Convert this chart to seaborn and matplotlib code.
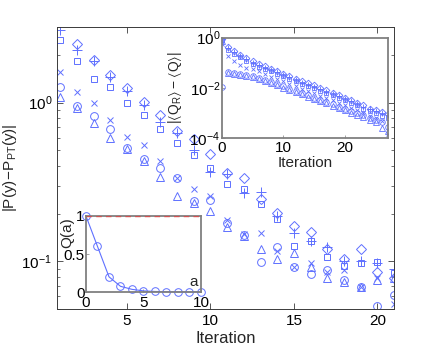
import matplotlib
matplotlib.use("Agg")
import matplotlib.pyplot as plt
import seaborn as sns
import pandas as pd
from matplotlib.ticker import LogLocator, NullFormatter, LogFormatterMathtext, FixedLocator

# ---------------- data ----------------
iters_main = list(range(1, 22))
main_plus = [2.86, 2.16, 1.82, 1.46, 1.19, 0.97, 0.76, 0.64, 0.50, 0.366, 0.355, 0.269, 0.273,
             0.193, 0.150, 0.134, 0.123, 0.100, 0.101, 0.098, 0.089]
main_square = [2.50, 1.84, 1.42, 1.26, 1.00, 0.84, 0.68, 0.56, 0.47, 0.39, 0.307, 0.286, 0.23,
               0.185, 0.124, 0.134, 0.106, 0.094, 0.097, 0.0986, 0.084]
main_x = [1.57, 1.17, 0.99, 0.78, 0.61, 0.54, 0.43, 0.335, 0.286, 0.258, 0.182, 0.148, 0.150,
          0.116, 0.0917, 0.097, 0.0852, 0.0877, 0.0685, 0.079, 0.054]
main_circle = [1.26, 0.957, 0.83, 0.68, 0.52, 0.44, 0.39, 0.335, 0.24, 0.243, 0.174, 0.146, 0.0986,
               0.123, 0.0917, 0.0828, 0.0877, 0.0758, 0.0685, 0.052, 0.061]
main_triangle = [1.08, 0.93, 0.74, 0.60, 0.51, 0.43, 0.34, 0.258, 0.233, 0.207, 0.164, 0.144, 0.119,
                 0.103, 0.112, 0.0917, 0.079, 0.0738, 0.0685, 0.076, 0.078]
main_diamond = [3.6, 2.36, 1.87, 1.50, 1.24, 1.01, 0.84, 0.66, 0.59, 0.475, 0.36, 0.335, 0.247,
                0.201, 0.167, 0.153, 0.119, 0.103, 0.119, 0.085, 0.078]

iters_inset = list(range(0, 28))
ins_diamond = [0.91, 0.43, 0.30, 0.21, 0.155, 0.115, 0.087, 0.072, 0.058, 0.047, 0.037, 0.030, 0.023,
               0.018, 0.015, 0.0126, 0.0098, 0.0079, 0.0065, 0.0054, 0.0041, 0.0032, 0.0026, 0.0020,
               0.0015, 0.00126, 0.0011, 0.00093]
ins_plus = [0.85, 0.38, 0.27, 0.19, 0.14, 0.10, 0.078, 0.064, 0.052, 0.042, 0.033, 0.027, 0.021,
            0.016, 0.013, 0.011, 0.0088, 0.0071, 0.0058, 0.0048, 0.0037, 0.0029, 0.0023, 0.0018,
            0.0014, 0.00115, 0.00095, 0.00080]
ins_square = [0.80, 0.33, 0.23, 0.165, 0.12, 0.088, 0.066, 0.055, 0.045, 0.036, 0.029, 0.023, 0.018,
              0.014, 0.0115, 0.0096, 0.0075, 0.0061, 0.0050, 0.0041, 0.0032, 0.0025, 0.0020, 0.0015,
              0.0012, 0.00095, 0.00078, 0.00065]
ins_x = [0.55, 0.18, 0.115, 0.079, 0.063, 0.058, 0.045, 0.035, 0.028, 0.023, 0.018, 0.0145, 0.0117,
         0.0091, 0.0074, 0.0062, 0.0049, 0.0040, 0.0032, 0.0026, 0.0020, 0.0016, 0.0013, 0.0010,
         0.00076, 0.00060, 0.00047, 0.00014]
ins_circle = [0.0107, 0.041, 0.038, 0.037, 0.034, 0.029, 0.0245, 0.0214, 0.017, 0.0148, 0.0115, 0.0093,
              0.0076, 0.0063, 0.0050, 0.0041, 0.0034, 0.0028, 0.0022, 0.0018, 0.0015, 0.00123, 0.0010,
              0.00081, 0.00065, 0.00054, 0.00044, 0.00028]
ins_triangle = [0.75, 0.038, 0.036, 0.034, 0.031, 0.026, 0.022, 0.019, 0.0155, 0.013, 0.0102, 0.0083,
                0.0067, 0.0055, 0.0044, 0.0036, 0.0029, 0.0024, 0.0019, 0.00155, 0.00125, 0.00102,
                0.00083, 0.00066, 0.00052, 0.00042, 0.00025, 0.00019]

a_values = list(range(0, 11))
q_values = [1.0, 0.60, 0.20, 0.075, 0.035, 0.015, 0.007, 0.004, 0.002, 0.001, 0.001]

main_xticks = [5, 10, 15, 20]
inset_xticks = [0, 10, 20]
q_xticks = [0, 5, 10]
q_yticks = [0, 0.5, 1]

# ---------------- style ----------------
sns.set_theme(style="ticks")
plt.rcParams["font.family"] = ["Liberation Sans", "DejaVu Sans"]
plt.rcParams["mathtext.default"] = "regular"
plt.rcParams["axes.unicode_minus"] = True

BLUE = "#5f70ff"
SPINE_MAIN = "#3a3a3a"
SPINE_IN = "#808080"

fig = plt.figure(figsize=(4.36, 3.49), dpi=100)
fig.patch.set_facecolor("white")

ax = fig.add_axes([0.1307, 0.1146, 0.773, 0.808])


def draw(axis, xs, ys, marker, ms, mew=0.7):
    sns.lineplot(x=xs, y=ys, ax=axis, marker=marker, linestyle="", color=BLUE,
                 markerfacecolor="none", markeredgecolor=BLUE, markersize=ms,
                 markeredgewidth=mew, legend=False, errorbar=None)


series_main = [(main_plus, "+", 6.5), (main_square, "s", 4.6), (main_x, "x", 4.6),
               (main_circle, "o", 5.6), (main_triangle, "^", 5.8), (main_diamond, "D", 4.6)]
for ys, m, ms in series_main:
    draw(ax, iters_main, ys, m, ms)

ax.set_yscale("log")
ax.set_xlim(0.8, 21)
ax.set_ylim(0.05, 3)
ax.xaxis.set_major_locator(FixedLocator(main_xticks))
ax.yaxis.set_major_locator(LogLocator(base=10))
ax.yaxis.set_major_formatter(LogFormatterMathtext())
ax.yaxis.set_minor_locator(LogLocator(base=10, subs=range(2, 10)))
ax.yaxis.set_minor_formatter(NullFormatter())
ax.tick_params(which="both", direction="in", top=True, right=True, colors=SPINE_MAIN,
               labelcolor="black", labelsize=11)
ax.tick_params(which="major", length=4, width=0.6)
ax.tick_params(which="minor", length=2, width=0.5)
for s in ax.spines.values():
    s.set_color(SPINE_MAIN)
    s.set_linewidth(0.7)
ax.set_xlabel("Iteration", fontsize=12, labelpad=2)
ax.set_ylabel(r"$|P(y)\!-\!P_{PT}(y)|$", fontsize=11, labelpad=2)

# ---------------- inset 1 (top right) ----------------
ax1 = fig.add_axes([0.5085, 0.6046, 0.3814, 0.2874])
ax1.set_facecolor("white")
series_in = [(ins_plus, "+", 4.5), (ins_square, "s", 3.2), (ins_x, "x", 3.5),
             (ins_circle, "o", 4.0), (ins_triangle, "^", 4.2), (ins_diamond, "D", 3.4)]
for ys, m, ms in series_in:
    draw(ax1, iters_inset, ys, m, ms, mew=0.6)
ax1.set_yscale("log")
ax1.set_xlim(0, 27)
ax1.set_ylim(1e-4, 1)
ax1.xaxis.set_major_locator(FixedLocator(inset_xticks))
ax1.yaxis.set_major_locator(FixedLocator([1e-4, 1e-2, 1]))
ax1.yaxis.set_major_formatter(LogFormatterMathtext())
ax1.yaxis.set_minor_locator(FixedLocator([]))
ax1.tick_params(which="both", direction="in", length=2, width=0.5, colors=SPINE_IN,
                labelcolor="black", labelsize=11, pad=1)
ax1.tick_params(axis="x", pad=2)
for s in ax1.spines.values():
    s.set_color(SPINE_IN)
    s.set_linewidth(1.3)
ax1.set_xlabel("Iteration", fontsize=11, labelpad=1)
ax1.set_ylabel(r"$|\langle Q_R\rangle - \langle Q\rangle|$", fontsize=10)
ax1.yaxis.set_label_coords(-0.225, 0.5)

# ---------------- inset 2 (bottom left) ----------------
ax2 = fig.add_axes([0.1972, 0.1633, 0.2638, 0.2178])
ax2.set_facecolor("white")
sns.lineplot(x=a_values, y=q_values, ax=ax2, marker="o", color=BLUE, linewidth=0.8,
             markerfacecolor="none", markeredgecolor=BLUE, markersize=5.5, markeredgewidth=0.7,
             legend=False, errorbar=None, clip_on=False)
ax2.axhline(1.0, color="#d05050", linestyle="--", linewidth=1.0, dashes=(4, 3), zorder=5)
ax2.set_xlim(0, 10)
ax2.set_ylim(0, 1)
ax2.xaxis.set_major_locator(FixedLocator(q_xticks))
ax2.yaxis.set_major_locator(FixedLocator(q_yticks))
ax2.set_yticklabels(["0", "0.5", "1"])
ax2.tick_params(which="both", direction="in", length=2, width=0.5, colors=SPINE_IN,
                labelcolor="black", labelsize=11, pad=1)
ax2.tick_params(axis="x", pad=3)
for s in ax2.spines.values():
    s.set_color(SPINE_IN)
    s.set_linewidth(1.3)
ax2.set_ylabel("Q(a)", fontsize=11)
ax2.yaxis.set_label_coords(-0.10, 0.78)
ax2.set_xlabel("")
ax2.text(0.94, 0.04, "a", transform=ax2.transAxes, fontsize=11, ha="center", va="bottom")

fig.savefig("out.png", dpi=100, facecolor="white")
